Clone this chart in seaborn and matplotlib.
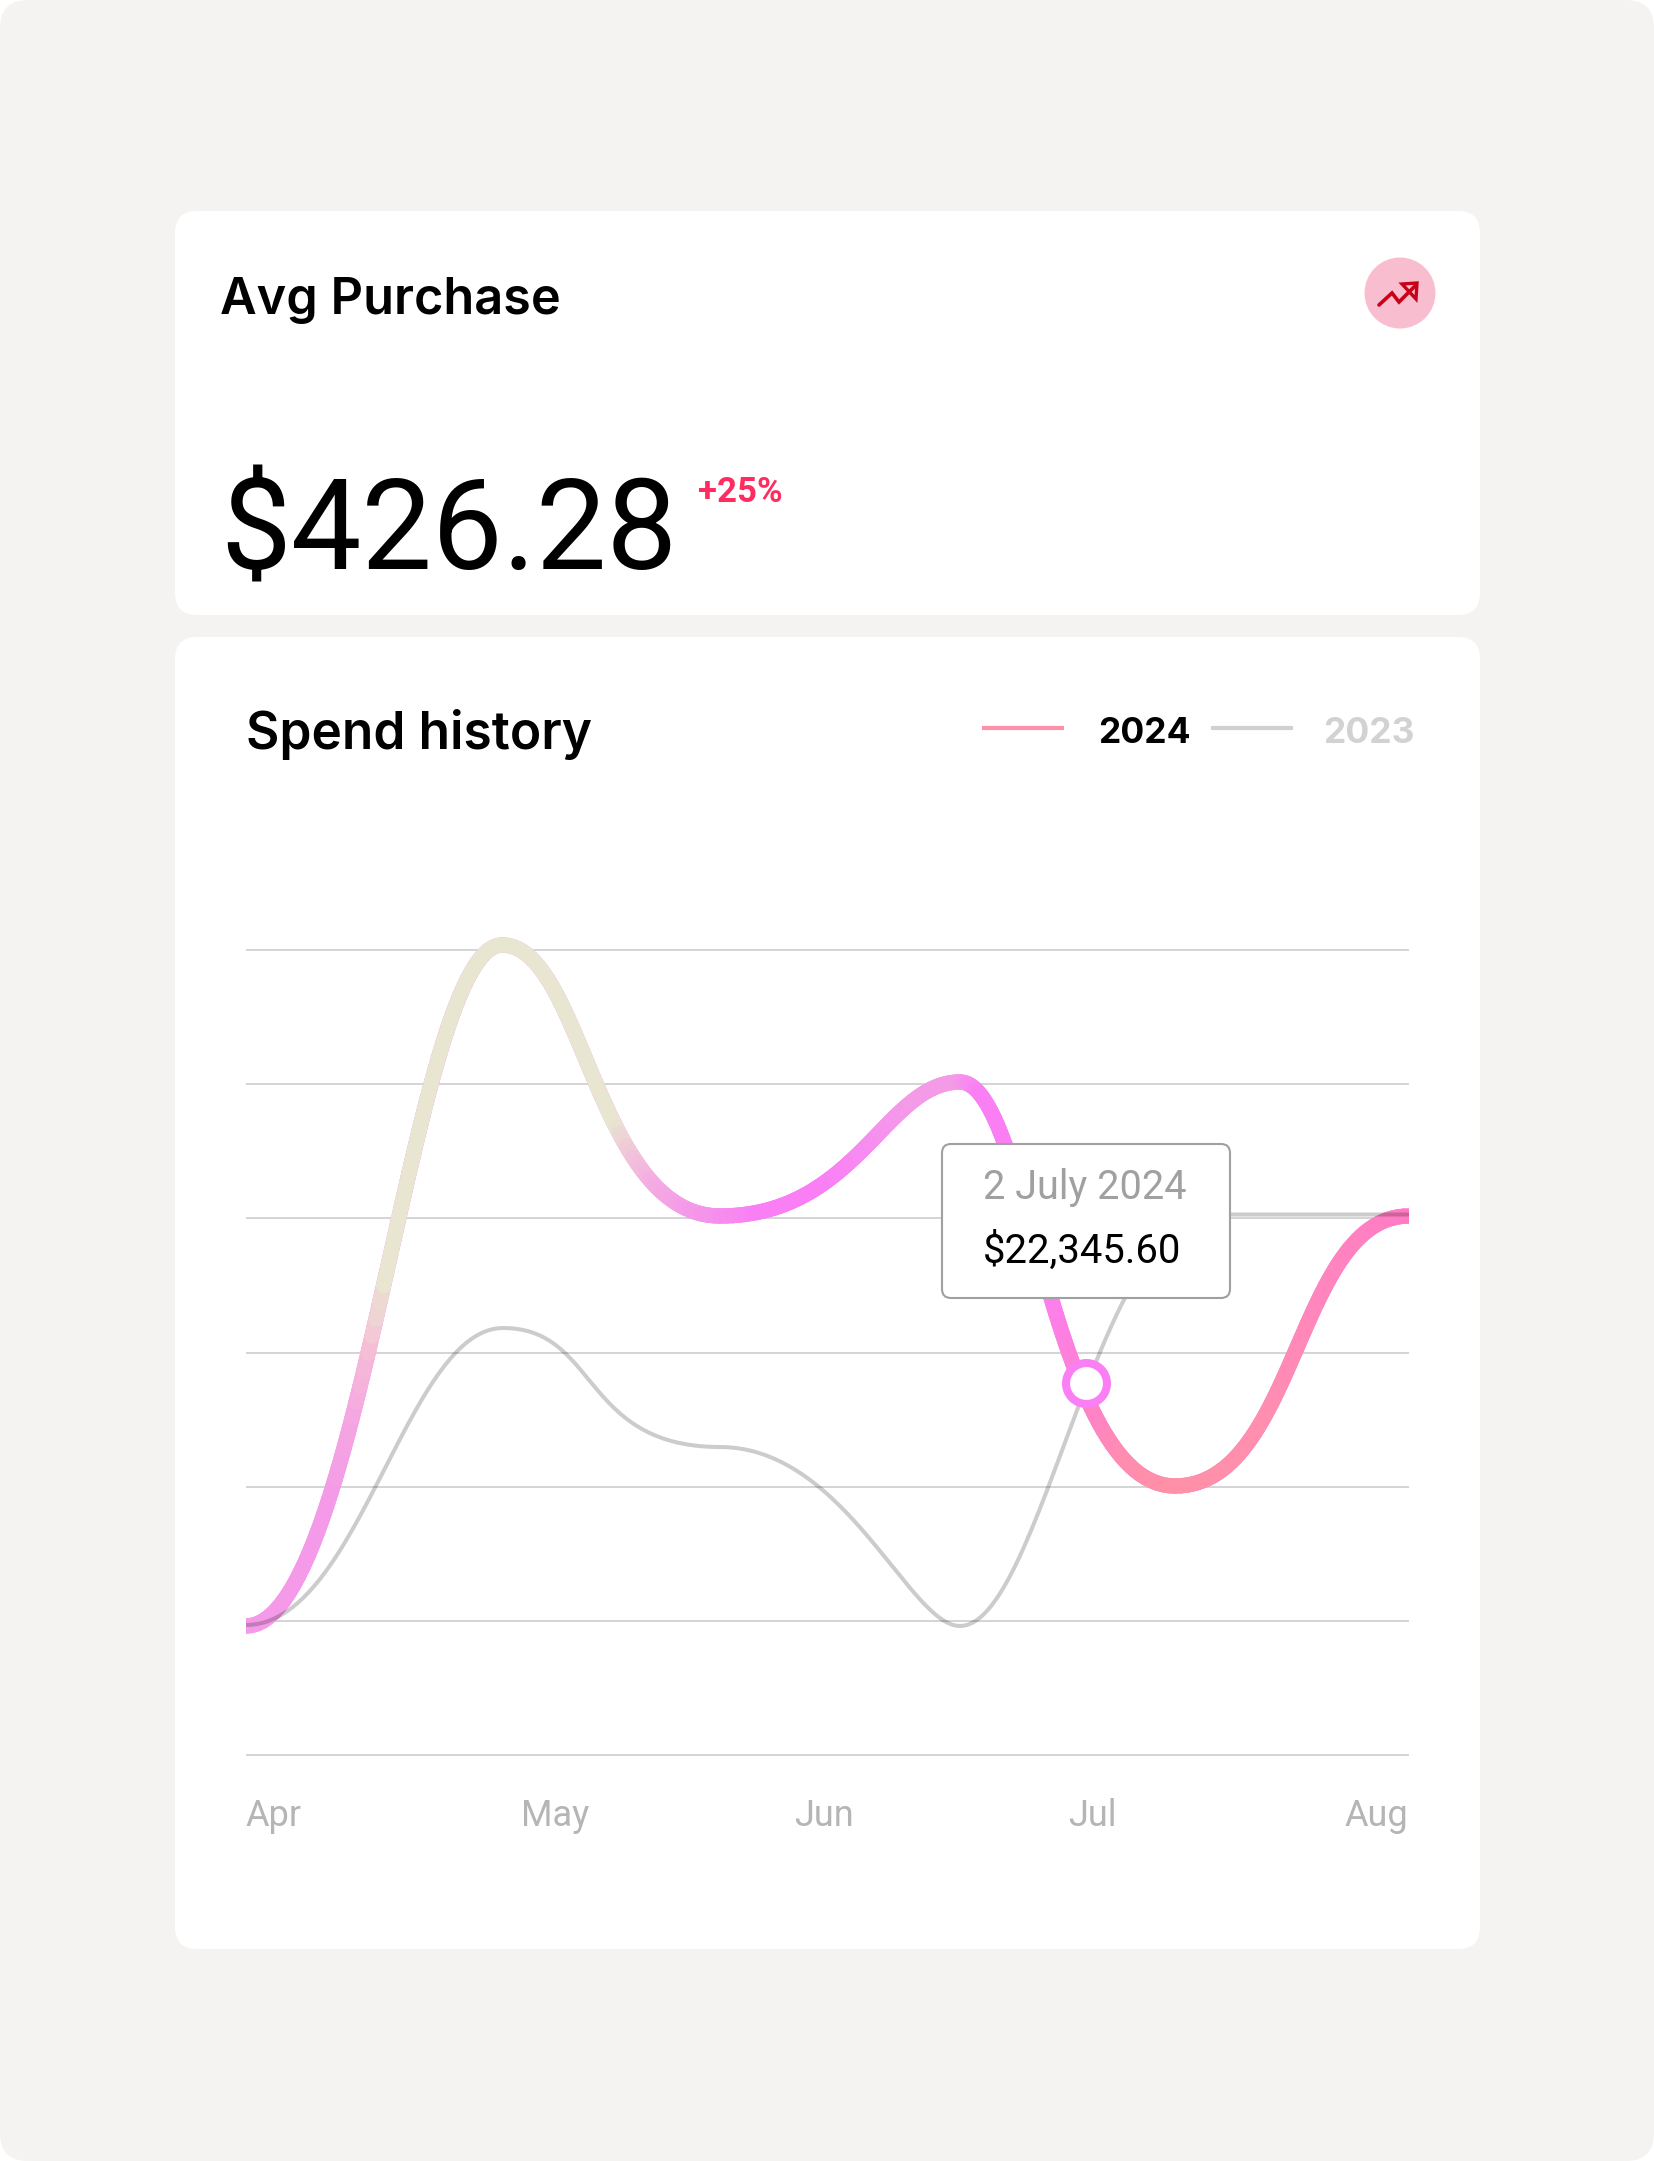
import numpy as np
import pandas as pd
import matplotlib
matplotlib.use("Agg")
import matplotlib.pyplot as plt
import seaborn as sns
from matplotlib.collections import LineCollection
from matplotlib.colors import LinearSegmentedColormap
from matplotlib.patches import Circle, FancyBboxPatch, Polygon

# values, one unit per pixel, gridlines every 134.17
x_2024 = [0, 256, 474, 714, 929, 1163]
y_2024 = [129, 810, 539, 673, 269, 539]
x_2023 = [0, 257, 474, 714, 965, 1163]
y_2023 = [130, 427, 308, 129, 540.5, 540.5]

# curve handles of each span, as a share of its width
out_2024 = [0.45, 0.37, 0.57, 0.32, 0.52]
in_2024 = [0.35, 0.57, 0.31, 0.575, 0.48]
out_2023 = [0.44, 0.44, 0.52, 0.32, 0.5]
in_2023 = [0.375, 0.64, 0.21, 0.45, 0.5]

months = ["Apr", "May", "Jun", "Jul", "Aug"]
month_pos = [28, 309, 578, 846, 1130]
grid_levels = [0, 134.2, 268.3, 402.5, 536.7, 670.8, 805]

# colour along the 2024 line, by x position
color_x = [0, 84, 109, 124, 139, 369, 385, 407, 441, 474, 514, 581, 627, 667, 714, 734, 804, 840, 882, 927, 1016, 1083, 1163]
color_hex = ["#f49ae8", "#f49ae8", "#f5a8e0", "#f5c0d5", "#e8e6d0", "#e8e6d0", "#f0c8d8", "#f4aee0", "#f49ce8",
             "#f690ec", "#fa7ff5", "#fa7ff5", "#f68ef0", "#f49be8", "#f49be8", "#fa7ff5", "#fc7ff0", "#ff80cc",
             "#ff8db0", "#ff90a5", "#ff8fae", "#ff85be", "#ff7cc4"]


def curve(x, y, h_out, h_in, steps=60):
    # cubic bezier through the knots with flat tangents
    xs, ys = [], []
    t = np.linspace(0, 1, steps, endpoint=False)
    for i in range(len(x) - 1):
        dx = x[i + 1] - x[i]
        c1 = x[i] + h_out[i] * dx
        c2 = x[i + 1] - h_in[i] * dx
        xs.append((1 - t) ** 3 * x[i] + 3 * (1 - t) ** 2 * t * c1 + 3 * (1 - t) * t ** 2 * c2 + t ** 3 * x[i + 1])
        ys.append(y[i] + (y[i + 1] - y[i]) * (3 * t ** 2 - 2 * t ** 3))
    return np.r_[np.concatenate(xs), x[-1]], np.r_[np.concatenate(ys), y[-1]]


sns.set_theme(style="white")
plt.rcParams["font.family"] = ["Roboto", "Liberation Sans", "DejaVu Sans"]

fig = plt.figure(figsize=(16.54, 21.61), dpi=100, facecolor="white")

# page and cards, drawn in pixel space
bg = fig.add_axes([0, 0, 1, 1], zorder=0)
bg.set_xlim(0, 1654)
bg.set_ylim(2161, 0)
bg.axis("off")


def rounded(ax, x0, y0, x1, y1, r, **kw):
    box = FancyBboxPatch((x0 + r, y0 + r), x1 - x0 - 2 * r, y1 - y0 - 2 * r,
                         boxstyle=f"round,pad={r},rounding_size={r}", **kw)
    ax.add_patch(box)


rounded(bg, 0, 0, 1654, 2161, 28, fc="#f4f3f1", ec="none")
rounded(bg, 175, 211, 1480, 615, 22, fc="white", ec="none")
rounded(bg, 175, 637, 1480, 1949, 22, fc="white", ec="none")

bg.text(220, 314, "Avg Purchase", fontsize=36.3, family="Inter", fontweight="semibold", color="black", va="baseline")
bg.text(220, 570, "$426.28", fontsize=90.5, color="black", va="baseline")
bg.text(698, 502, "+25%", fontsize=25, fontweight="bold", color="#ff2d5f", va="baseline")
bg.text(246, 749, "Spend history", fontsize=37, family="Inter", fontweight="semibold", color="black", va="baseline")

# trend icon
bg.add_patch(Circle((1400, 293), 35.5, fc="#f9bdd0", ec="none"))
bg.plot([1379, 1392, 1399, 1415], [305, 293, 302, 286], color="#c90018", lw=2.6, solid_joinstyle="miter")
bg.add_patch(Polygon([[1402, 284], [1417, 283], [1416, 299]], closed=True, fc="#f9bdd0", ec="#c90018", lw=2.4))

# legend
bg.plot([982, 1064], [728, 728], color="#ff90aa", lw=3, solid_capstyle="butt")
bg.text(1098, 743, "2024", fontsize=25.5, family="Inter", fontweight="bold", color="black", va="baseline")
bg.plot([1211, 1293], [728, 728], color="#d0d0d0", lw=3, solid_capstyle="butt")
bg.text(1323, 743, "2023", fontsize=25.5, family="Inter", fontweight="bold", color="#d2d2d2", va="baseline")

# chart, one data unit is one pixel
ax = fig.add_axes([246 / 1654, 1 - 1785 / 2161, 1163 / 1654, 930 / 2161], zorder=1)
ax.patch.set_alpha(0)
ax.set_xlim(0, 1163)
ax.set_ylim(-30, 900)
ax.set_yticks(grid_levels)
ax.set_yticklabels([])
ax.set_xticks(month_pos)
ax.set_xticklabels(months, fontsize=26, color="#b5b5b5")
ax.tick_params(axis="both", length=0)
ax.tick_params(axis="x", pad=9)
ax.grid(axis="y", color="#c9c9c9", lw=1.1)
ax.grid(axis="x", visible=False)
sns.despine(ax=ax, left=True, bottom=True)

sx24, sy24 = curve(x_2024, y_2024, out_2024, in_2024)
sx23, sy23 = curve(x_2023, y_2023, out_2023, in_2023)

df24 = pd.DataFrame({"x": sx24, "y": sy24})
df23 = pd.DataFrame({"x": sx23, "y": sy23})

sns.lineplot(data=df24, x="x", y="y", ax=ax, color="#fa7ff5", lw=11, sort=False, estimator=None, zorder=2)

# gradient on top of the 2024 line
stops = list(zip(np.array(color_x) / color_x[-1], color_hex))
cmap = LinearSegmentedColormap.from_list("spend", stops, N=512)
pts = np.column_stack([sx24, sy24]).reshape(-1, 1, 2)
segs = np.concatenate([pts[:-1], pts[1:]], axis=1)
lc = LineCollection(segs, cmap=cmap, lw=11, capstyle="round", zorder=3)
lc.set_array((sx24[:-1] + sx24[1:]) / 2)
lc.set_clim(0, color_x[-1])
ax.add_collection(lc)

sns.lineplot(data=df23, x="x", y="y", ax=ax, color="black", alpha=0.2, lw=2.9, sort=False, estimator=None, zorder=4)
ax.set_xlabel("")
ax.set_ylabel("")

# tooltip
rounded(ax, 696, 457, 984, 611, 9, fc="white", ec="#a0a0a0", lw=1.5, zorder=5)
ax.text(737, 556, "2 July 2024", fontsize=28.5, color="#a0a0a0", va="baseline", zorder=6)
ax.text(737, 492, "$22,345.60", fontsize=28.8, color="black", va="baseline", zorder=6)

sns.scatterplot(x=[840], y=[372], ax=ax, s=870, facecolor="white", edgecolor="#fa7ff5", linewidth=5.8, zorder=7)
ax.set_xlabel("")
ax.set_ylabel("")

fig.savefig("out.png", dpi=100, facecolor="white")
